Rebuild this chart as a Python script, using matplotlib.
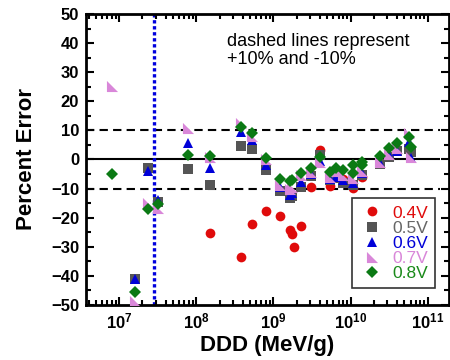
import matplotlib
matplotlib.use("Agg")
import matplotlib.pyplot as plt
from matplotlib.ticker import MultipleLocator, LogLocator, NullFormatter, FuncFormatter
import numpy as np

plt.rcParams['font.family'] = ['Liberation Sans', 'DejaVu Sans']
plt.rcParams['mathtext.fontset'] = 'custom'
plt.rcParams['mathtext.rm'] = 'Liberation Sans:bold'
plt.rcParams['mathtext.bf'] = 'Liberation Sans:bold'

# 0.4V
x_04 = [1.5e8, 3.76e8, 5.3e8, 8.0e8, 1.21e9, 1.62e9, 1.74e9, 1.86e9, 2.27e9,
        3.05e9, 4.0e9, 5.4e9, 8.0e9, 1.08e10, 1.43e10]
y_04 = [-25.3, -33.4, -22.2, -17.6, -19.4, -24.3, -25.5, -30.0, -22.9,
        -9.3, 3.3, -9.1, -6.8, -9.8, -6.0]

# 0.5V
x_05 = [1.58e7, 2.35e7, 3.16e7, 7.9e7, 1.5e8, 3.76e8, 5.3e8, 8.0e8, 1.21e9,
        1.62e9, 1.74e9, 2.27e9, 3.05e9, 4.0e9, 5.4e9, 6.5e9, 8.0e9, 1.08e10,
        1.43e10, 2.4e10, 3.2e10, 4.0e10, 5.8e10, 6.1e10]
y_05 = [-41.0, -3.0, -14.5, -3.4, -8.8, 4.6, 3.5, -3.6, -11.0,
        -13.3, -12.5, -9.6, -5.7, 1.5, -7.2, -6.5, -8.0, -8.8,
        -5.5, -1.5, 1.0, 3.0, 3.5, 2.7]

# 0.6V
x_06 = [1.58e7, 2.35e7, 3.16e7, 7.9e7, 1.5e8, 3.76e8, 5.3e8, 8.0e8, 1.21e9,
        1.62e9, 1.74e9, 2.27e9, 3.05e9, 4.0e9, 5.4e9, 6.5e9, 8.0e9, 1.08e10,
        1.43e10, 2.4e10, 3.2e10, 4.0e10, 5.8e10, 6.1e10]
y_06 = [-41.0, -3.8, -13.9, 5.6, -3.0, 9.6, 6.7, -1.9, -9.6,
        -12.2, -11.5, -7.6, -5.0, -0.5, -6.7, -6.0, -7.0, -8.0,
        -4.5, -1.1, 1.5, 3.0, 6.0, 0.4]

# 0.7V
x_07 = [8.0e6, 1.58e7, 2.35e7, 3.16e7, 7.9e7, 1.5e8, 3.76e8, 5.3e8, 8.0e8,
        1.21e9, 1.62e9, 1.74e9, 2.27e9, 3.05e9, 4.0e9, 5.4e9, 6.5e9, 8.0e9,
        1.08e10, 1.43e10, 2.4e10, 3.2e10, 4.0e10, 5.8e10, 6.1e10]
y_07 = [25.4, -48.5, -15.0, -16.7, 10.7, 1.0, 12.4, 8.0, 0.0,
        -8.8, -10.0, -9.5, -5.5, -4.2, -1.0, -6.0, -4.0, -5.5,
        -6.5, -4.0, -1.0, 2.0, 4.0, 9.0, 1.0]

# 0.8V
x_08 = [8.0e6, 1.58e7, 2.35e7, 3.16e7, 7.9e7, 1.5e8, 3.76e8, 5.3e8, 8.0e8,
        1.21e9, 1.62e9, 1.74e9, 2.27e9, 3.05e9, 4.0e9, 5.4e9, 6.5e9, 8.0e9,
        1.08e10, 1.08e10, 1.43e10, 1.43e10, 2.4e10, 3.2e10, 4.0e10, 5.8e10, 6.1e10]
y_08 = [-5.1, -45.5, -17.0, -15.3, 1.5, 1.3, 11.3, 9.0, 0.5,
        -6.7, -7.3, -7.0, -4.6, -3.0, 1.0, -4.2, -3.0, -3.6,
        -1.9, -4.7, -0.8, -1.9, 1.3, 3.8, 5.6, 7.8, 4.4]

labels = ['0.4V', '0.5V', '0.6V', '0.7V', '0.8V']
colors = ['#e00b0b', '#555555', '#0000d8', '#d987d9', '#0b7a14']
text_colors = ['#e00b0b', '#666666', '#0000d8', '#d987d9', '#1a8a1a']
tri = [(-1, 1), (-1, -1), (1, -1), (-1, 1)]
markers = ['o', 's', '^', tri, 'D']
sizes = [7, 7, 7.5, 8, 6]

fig = plt.figure(figsize=(4.5, 3.6), dpi=100)
ax = fig.add_axes([0.191, 0.153, 0.807, 0.808])

xmin, xmax = 3.7e6, 1.9e11
ax.hlines([10, -10], xmin, 1.43e11, colors='black', linestyles=(0, (4, 2.5)), lw=1.5, zorder=1)
ax.hlines([0], xmin, 1.43e11, colors='black', lw=1.5, zorder=1)
ax.axvline(2.85e7, color='#0000dd', linestyle=(0, (1, 0.8)), lw=2.4, zorder=1)

series = [(x_04, y_04), (x_05, y_05), (x_06, y_06), (x_07, y_07), (x_08, y_08)]
handles = []
for (xs, ys), lab, c, m, s in zip(series, labels, colors, markers, sizes):
    h, = ax.plot(xs, ys, linestyle='none', marker=m, color=c, markersize=s,
                 markeredgewidth=0, label=lab, zorder=3)
    handles.append(h)

ax.set_xscale('log')
ax.set_xlim(xmin, xmax)
ax.set_ylim(-50, 50)
ax.yaxis.set_major_locator(MultipleLocator(10))
ax.yaxis.set_minor_locator(MultipleLocator(5))
ax.xaxis.set_major_locator(LogLocator(base=10, numticks=20))
ax.xaxis.set_minor_locator(LogLocator(base=10, subs=range(2, 10), numticks=20))
ax.xaxis.set_minor_formatter(NullFormatter())
ax.xaxis.set_major_formatter(FuncFormatter(lambda v, p: r'$\mathbf{10^{%d}}$' % round(np.log10(v))))

ax.tick_params(which='both', direction='in', top=True, right=True, width=1.5)
ax.tick_params(which='major', length=6, labelsize=12, pad=5)
ax.tick_params(which='minor', length=3.5)
for lab in ax.get_yticklabels():
    lab.set_fontweight('bold')
for sp in ax.spines.values():
    sp.set_linewidth(2)

ax.set_xlabel('DDD (MeV/g)', fontsize=16, fontweight='bold', labelpad=2)
ax.set_ylabel('Percent Error', fontsize=16, fontweight='bold', labelpad=10)

ax.text(0.388, 0.935, 'dashed lines represent\n+10% and -10%', transform=ax.transAxes,
        fontsize=13, va='top', ha='left', linespacing=1.1)

leg = ax.legend(handles=handles, loc='lower right', bbox_to_anchor=(0.975, 0.04),
                fontsize=12.5, frameon=True, fancybox=False, edgecolor='black',
                handletextpad=0.4, labelspacing=0.0, borderpad=0.4, borderaxespad=0.3,
                handlelength=1.5)
leg.get_frame().set_linewidth(1.2)
for t, c in zip(leg.get_texts(), text_colors):
    t.set_color(c)

fig.savefig('out.png', dpi=100)
